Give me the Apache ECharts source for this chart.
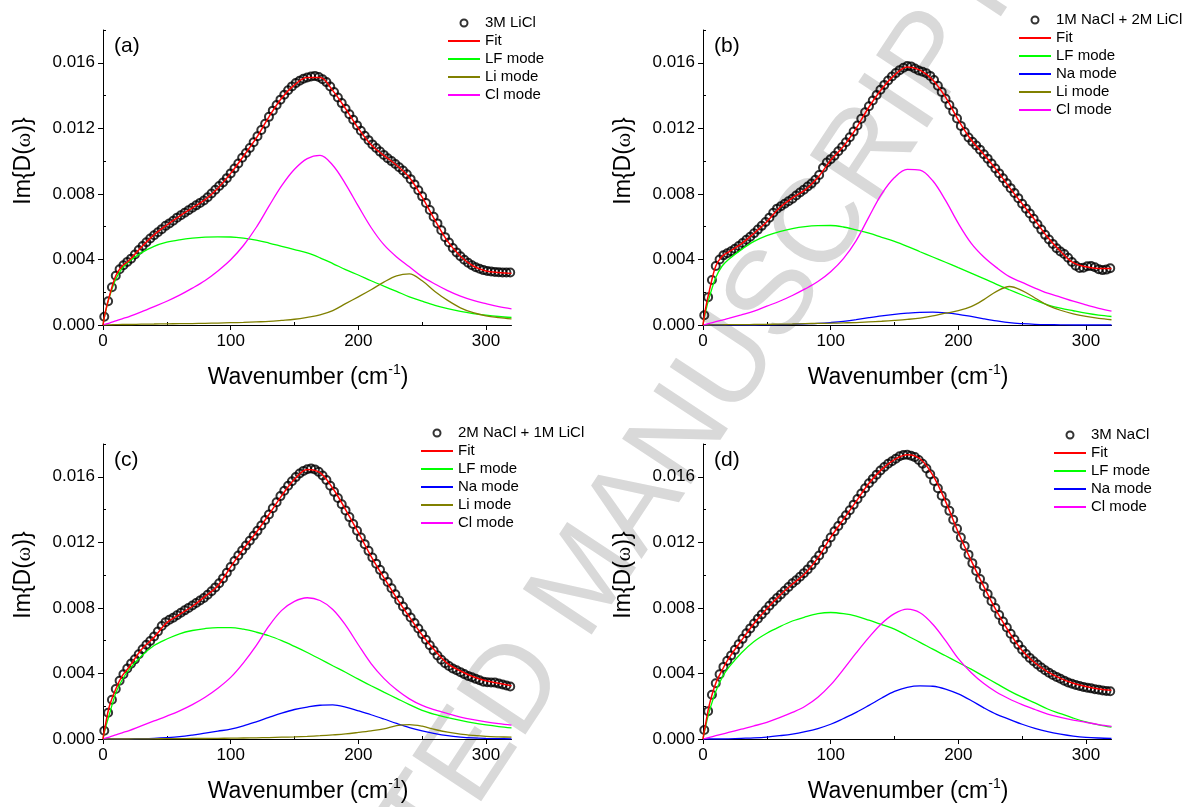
<!DOCTYPE html>
<html>
<head>
<meta charset="utf-8">
<script src="https://cdn.jsdelivr.net/npm/echarts@6/dist/echarts.min.js"></script>
<style>
  html, body { margin: 0; background: #fff; }
  #chart { width: 1184px; height: 807px; }
</style>
</head>
<body>
<div id="chart"></div>
<script>
// wavenumbers of the measured points (cm-1)
const wn = [1, 4, 7, 10, 13, 16, 19, 22, 25, 28,
  31, 34, 37, 40, 43, 46, 49, 52, 55, 58,
  61, 64, 67, 70, 73, 76, 79, 82, 85, 88,
  91, 94, 97, 100, 103, 106, 109, 112, 115, 118,
  121, 124, 127, 130, 133, 136, 139, 142, 145, 148,
  151, 154, 157, 160, 163, 166, 169, 172, 175, 178,
  181, 184, 187, 190, 193, 196, 199, 202, 205, 208,
  211, 214, 217, 220, 223, 226, 229, 232, 235, 238,
  241, 244, 247, 250, 253, 256, 259, 262, 265, 268,
  271, 274, 277, 280, 283, 286, 289, 292, 295, 298,
  301, 304, 307, 310, 313, 316, 319];
// wavenumbers where fit / mode curves are read
const fitX = [0, 2, 5, 10, 15, 20, 30, 40, 50, 60, 70, 80, 90, 100, 110, 120, 130, 140, 150, 160,
  170, 180, 190, 200, 210, 220, 230, 240, 250, 260, 270, 280, 290, 300, 310, 320];

// all Im{D(w)} values below are x 10^-3

// (a) 3M LiCl
const aData = [0.5, 1.45, 2.3, 3.0, 3.4, 3.65, 3.85, 4.05, 4.3, 4.58,
  4.82, 5.05, 5.28, 5.48, 5.66, 5.85, 6.05, 6.2, 6.36, 6.55,
  6.7, 6.85, 7.0, 7.15, 7.3, 7.45, 7.6, 7.8, 8.02, 8.25,
  8.48, 8.7, 8.96, 9.25, 9.55, 9.85, 10.2, 10.5, 10.8, 11.15,
  11.52, 11.9, 12.28, 12.7, 13.08, 13.42, 13.75, 14.05, 14.32, 14.56,
  14.76, 14.9, 15.02, 15.1, 15.16, 15.2, 15.13, 15.0, 14.82, 14.55,
  14.22, 13.88, 13.54, 13.2, 12.86, 12.52, 12.18, 11.85, 11.55, 11.28,
  11.02, 10.8, 10.58, 10.38, 10.18, 10.0, 9.82, 9.62, 9.43, 9.2,
  8.9, 8.58, 8.22, 7.85, 7.44, 7.02, 6.61, 6.2, 5.78, 5.36,
  5.03, 4.7, 4.43, 4.2, 3.98, 3.8, 3.65, 3.52, 3.43, 3.35,
  3.3, 3.26, 3.24, 3.22, 3.21, 3.2, 3.2];
const aFit = [0, 0.85, 1.75, 3.0, 3.6, 3.9, 4.75, 5.5, 6.1, 6.65, 7.15, 7.65, 8.35, 9.25, 10.3, 11.4, 12.7, 13.85, 14.65, 15.1,
  15.1, 14.3, 13.2, 12.0, 11.0, 10.35, 9.75, 9.0, 7.8, 6.4, 5.1, 4.2, 3.6, 3.3, 3.2, 3.15];
const aLF = [0, 0.8, 1.7, 2.8, 3.45, 3.85, 4.4, 4.8, 5.05, 5.2, 5.3, 5.36, 5.38, 5.37, 5.3, 5.18, 5.0, 4.8, 4.6, 4.4,
  4.1, 3.75, 3.38, 3.05, 2.7, 2.37, 2.05, 1.72, 1.45, 1.2, 1.0, 0.83, 0.7, 0.6, 0.52, 0.46];
const aLi = [0, 0, 0.01, 0.02, 0.03, 0.03, 0.05, 0.06, 0.07, 0.08, 0.09, 0.1, 0.12, 0.14, 0.16, 0.19, 0.22, 0.28, 0.35, 0.47,
  0.62, 0.88, 1.3, 1.72, 2.15, 2.62, 3.0, 3.12, 2.7, 2.05, 1.5, 1.05, 0.75, 0.56, 0.45, 0.37];
const aCl = [0, 0.05, 0.12, 0.25, 0.38, 0.5, 0.8, 1.12, 1.45, 1.82, 2.25, 2.72, 3.3, 3.98, 4.85, 5.95, 7.25, 8.5, 9.5, 10.15,
  10.35, 9.75, 8.6, 7.25, 5.95, 4.9, 4.15, 3.55, 2.95, 2.5, 2.1, 1.76, 1.5, 1.3, 1.12, 0.99];

// (b) 1M NaCl + 2M LiCl
const bData = [0.6, 1.7, 2.75, 3.6, 4.0, 4.25, 4.38, 4.5, 4.65, 4.82,
  5.0, 5.2, 5.38, 5.6, 5.82, 6.05, 6.28, 6.55, 6.85, 7.1,
  7.25, 7.4, 7.55, 7.7, 7.9, 8.08, 8.26, 8.45, 8.63, 8.86,
  9.15, 9.6, 9.92, 10.12, 10.33, 10.6, 10.86, 11.15, 11.46, 11.8,
  12.17, 12.58, 12.98, 13.35, 13.7, 14.03, 14.35, 14.65, 14.92, 15.16,
  15.37, 15.55, 15.7, 15.8, 15.78, 15.65, 15.53, 15.45, 15.36, 15.2,
  14.95, 14.6, 14.22, 13.8, 13.42, 13.03, 12.6, 12.15, 11.77, 11.44,
  11.18, 10.95, 10.7, 10.42, 10.15, 9.85, 9.55, 9.25, 8.95, 8.65,
  8.35, 8.05, 7.74, 7.4, 7.1, 6.8, 6.48, 6.15, 5.82, 5.5,
  5.22, 4.95, 4.68, 4.48, 4.33, 4.1, 3.84, 3.62, 3.48, 3.5,
  3.58, 3.6, 3.52, 3.4, 3.35, 3.38, 3.46];
const bFit = [0, 1.0, 2.1, 3.6, 4.2, 4.45, 4.95, 5.6, 6.3, 7.15, 7.75, 8.25, 9.0, 10.05, 10.9, 12.0, 13.3, 14.4, 15.25, 15.75,
  15.55, 14.95, 13.9, 12.5, 11.3, 10.4, 9.45, 8.4, 7.4, 6.4, 5.35, 4.5, 3.8, 3.55, 3.45, 3.45];
const bLF = [0, 0.8, 1.7, 2.9, 3.6, 4.0, 4.6, 5.1, 5.45, 5.7, 5.88, 6.0, 6.06, 6.07, 5.98, 5.8, 5.6, 5.35, 5.1, 4.8,
  4.47, 4.15, 3.83, 3.5, 3.17, 2.83, 2.48, 2.15, 1.83, 1.52, 1.23, 1.03, 0.87, 0.72, 0.6, 0.52];
const bNa = [0, 0, 0, 0, 0, 0, 0, 0, 0.01, 0.02, 0.04, 0.07, 0.1, 0.15, 0.22, 0.33, 0.45, 0.56, 0.65, 0.72,
  0.77, 0.78, 0.74, 0.65, 0.52, 0.38, 0.25, 0.14, 0.08, 0.04, 0.02, 0.01, 0, 0, 0, 0];
const bLi = [0, 0, 0, 0.01, 0.01, 0.02, 0.02, 0.03, 0.04, 0.05, 0.06, 0.08, 0.1, 0.11, 0.13, 0.15, 0.19, 0.23, 0.28, 0.34,
  0.42, 0.55, 0.72, 0.87, 1.12, 1.55, 2.05, 2.35, 2.1, 1.65, 1.2, 0.9, 0.68, 0.52, 0.4, 0.32];
const bCl = [0, 0.04, 0.1, 0.2, 0.3, 0.4, 0.62, 0.85, 1.15, 1.45, 1.8, 2.2, 2.65, 3.25, 4.05, 5.15, 6.6, 8.0, 9.0, 9.5,
  9.45, 8.8, 7.6, 6.2, 5.0, 4.15, 3.5, 2.95, 2.6, 2.25, 1.94, 1.7, 1.45, 1.23, 1.02, 0.84];

// (c) 2M NaCl + 1M LiCl
const cData = [0.5, 1.6, 2.4, 3.05, 3.55, 3.95, 4.3, 4.6, 4.86, 5.17,
  5.48, 5.75, 5.98, 6.25, 6.56, 6.9, 7.13, 7.28, 7.4, 7.55,
  7.7, 7.85, 8.0, 8.15, 8.3, 8.45, 8.6, 8.8, 9.02, 9.25,
  9.5, 9.8, 10.14, 10.5, 10.86, 11.2, 11.5, 11.8, 12.1, 12.4,
  12.7, 13.03, 13.36, 13.7, 14.08, 14.45, 14.82, 15.15, 15.45, 15.73,
  15.98, 16.2, 16.36, 16.46, 16.5, 16.45, 16.3, 16.08, 15.8, 15.45,
  15.08, 14.7, 14.32, 13.95, 13.54, 13.12, 12.71, 12.3, 11.89, 11.48,
  11.08, 10.7, 10.32, 9.95, 9.58, 9.2, 8.83, 8.45, 8.08, 7.75,
  7.41, 7.08, 6.74, 6.4, 6.06, 5.72, 5.4, 5.1, 4.84, 4.62,
  4.45, 4.3, 4.19, 4.08, 3.96, 3.85, 3.77, 3.67, 3.58, 3.5,
  3.46, 3.45, 3.44, 3.38, 3.32, 3.26, 3.2];
const cFit = [0, 0.9, 2.0, 3.05, 3.85, 4.35, 5.45, 6.2, 7.1, 7.6, 8.1, 8.7, 9.35, 10.5, 11.6, 12.6, 13.7, 14.85, 15.85, 16.45,
  16.25, 15.3, 14.0, 12.6, 11.15, 9.85, 8.6, 7.45, 6.35, 5.4, 4.6, 4.15, 3.8, 3.55, 3.4, 3.25];
const cLF = [0, 0.7, 1.5, 2.8, 3.6, 4.2, 5.05, 5.7, 6.1, 6.42, 6.62, 6.74, 6.8, 6.8, 6.7, 6.52, 6.3, 6.0, 5.65, 5.28,
  4.88, 4.47, 4.07, 3.65, 3.25, 2.86, 2.48, 2.1, 1.75, 1.5, 1.3, 1.13, 0.98, 0.86, 0.76, 0.68];
const cNa = [0, 0, 0, 0, 0, 0.01, 0.02, 0.04, 0.08, 0.14, 0.24, 0.36, 0.48, 0.6, 0.8, 1.05, 1.32, 1.58, 1.8, 1.95,
  2.06, 2.08, 1.95, 1.72, 1.48, 1.22, 0.95, 0.7, 0.5, 0.33, 0.2, 0.12, 0.07, 0.04, 0.02, 0.01];
const cLi = [0, 0, 0, 0, 0, 0, 0.01, 0.01, 0.02, 0.02, 0.03, 0.03, 0.04, 0.05, 0.06, 0.07, 0.09, 0.11, 0.13, 0.16,
  0.2, 0.25, 0.31, 0.4, 0.5, 0.62, 0.82, 0.88, 0.78, 0.58, 0.42, 0.3, 0.22, 0.16, 0.13, 0.11];
const cCl = [0, 0.05, 0.12, 0.25, 0.38, 0.5, 0.8, 1.1, 1.4, 1.72, 2.1, 2.55, 3.1, 3.76, 4.65, 5.7, 6.9, 7.85, 8.4, 8.62,
  8.45, 7.9, 6.95, 5.75, 4.6, 3.7, 3.0, 2.45, 2.05, 1.78, 1.55, 1.34, 1.18, 1.05, 0.94, 0.85];

// (d) 3M NaCl
const dData = [0.55, 1.7, 2.7, 3.4, 3.95, 4.4, 4.77, 5.1, 5.44, 5.78,
  6.11, 6.45, 6.75, 7.05, 7.34, 7.6, 7.86, 8.13, 8.38, 8.6,
  8.82, 9.05, 9.28, 9.5, 9.69, 9.9, 10.12, 10.35, 10.61, 10.9,
  11.2, 11.55, 11.92, 12.3, 12.67, 13.0, 13.34, 13.65, 13.96, 14.3,
  14.64, 14.98, 15.3, 15.6, 15.87, 16.13, 16.38, 16.6, 16.79, 16.95,
  17.1, 17.25, 17.33, 17.34, 17.28, 17.2, 17.02, 16.79, 16.5, 16.15,
  15.74, 15.3, 14.85, 14.4, 13.92, 13.38, 12.83, 12.3, 11.78, 11.25,
  10.73, 10.25, 9.76, 9.3, 8.85, 8.4, 7.99, 7.57, 7.17, 6.8,
  6.42, 6.07, 5.75, 5.45, 5.19, 4.95, 4.74, 4.55, 4.36, 4.2,
  4.05, 3.9, 3.79, 3.68, 3.56, 3.45, 3.37, 3.3, 3.23, 3.18,
  3.13, 3.09, 3.04, 3.0, 2.96, 2.93, 2.91];
const dFit = [0, 0.9, 2.1, 3.4, 4.2, 4.9, 6.0, 7.05, 7.95, 8.75, 9.45, 10.1, 11.05, 12.3, 13.4, 14.5, 15.6, 16.45, 17.05, 17.35,
  17.1, 16.1, 14.5, 12.6, 10.9, 9.3, 7.8, 6.5, 5.4, 4.65, 4.1, 3.7, 3.4, 3.2, 3.05, 2.97];
const dLF = [0, 0.75, 1.7, 2.9, 3.75, 4.35, 5.25, 5.95, 6.45, 6.85, 7.2, 7.45, 7.65, 7.72, 7.65, 7.5, 7.25, 6.98, 6.7, 6.3,
  5.9, 5.48, 5.08, 4.67, 4.26, 3.82, 3.38, 2.94, 2.55, 2.2, 1.83, 1.55, 1.28, 1.04, 0.86, 0.72];
const dNa = [0, 0, 0, 0, 0, 0.01, 0.04, 0.07, 0.12, 0.2, 0.3, 0.45, 0.64, 0.9, 1.25, 1.62, 2.05, 2.5, 2.9, 3.15,
  3.24, 3.22, 3.05, 2.75, 2.35, 1.9, 1.5, 1.2, 0.9, 0.65, 0.45, 0.3, 0.18, 0.1, 0.06, 0.04];
const dCl = [0, 0.04, 0.1, 0.2, 0.3, 0.4, 0.6, 0.8, 1.02, 1.3, 1.62, 2.0, 2.55, 3.3, 4.25, 5.25, 6.2, 7.05, 7.65, 7.92,
  7.7, 7.0, 6.0, 4.9, 4.06, 3.38, 2.85, 2.44, 2.1, 1.8, 1.52, 1.32, 1.15, 1.02, 0.88, 0.77];

const xMajor = [0, 100, 200, 300];
const xMinor = [50, 150, 250];
const yMajor = [0, 4, 8, 12, 16];
const yMinor = [2, 6, 10, 14, 18];

const FONT = '"Liberation Sans", Arial, sans-serif';
const colors = {
  'Fit': '#ff0000',
  'LF mode': '#00ff00',
  'Na mode': '#0000ff',
  'Li mode': '#808000',
  'Cl mode': '#ff00ff'
};

const panels = [
  { tag: '(a)', sample: '3M LiCl', data: aData, left: 103, top: 30, legend: [447, 15],
    curves: [['Fit', aFit], ['LF mode', aLF], ['Li mode', aLi], ['Cl mode', aCl]] },
  { tag: '(b)', sample: '1M NaCl + 2M LiCl', data: bData, left: 703, top: 30, legend: [1018, 12],
    curves: [['Fit', bFit], ['LF mode', bLF], ['Na mode', bNa], ['Li mode', bLi], ['Cl mode', bCl]] },
  { tag: '(c)', sample: '2M NaCl + 1M LiCl', data: cData, left: 103, top: 444, legend: [420, 425],
    curves: [['Fit', cFit], ['LF mode', cLF], ['Na mode', cNa], ['Li mode', cLi], ['Cl mode', cCl]] },
  { tag: '(d)', sample: '3M NaCl', data: dData, left: 703, top: 444, legend: [1053, 427],
    curves: [['Fit', dFit], ['LF mode', dLF], ['Na mode', dNa], ['Cl mode', dCl]] }
];
const W = 408.5, H = 295;

const pairs = (xs, ys) => xs.map((x, i) => [x, ys[i]]);
const black = { color: '#000', width: 1 };
const noDot = { color: 'rgba(0,0,0,0)', borderColor: 'rgba(0,0,0,0)', borderWidth: 0 };

const grid = [], xAxis = [], yAxis = [], series = [], legend = [], graphic = [];

// grey watermark, behind everything
graphic.push({
  type: 'text', silent: true, z: -10, x: 588, y: 580, rotation: 0.986,
  style: { text: 'ACCEPTED MANUSCRIPT', fontSize: 120, fontFamily: FONT, fill: '#d9d9d9',
    align: 'center', verticalAlign: 'middle' }
});

panels.forEach((p, i) => {
  grid.push({ left: p.left, top: p.top, width: W, height: H, containLabel: false, outerBoundsMode: 'none' });

  xAxis.push({
    gridIndex: i, type: 'value', min: 0, max: 320,
    axisLine: { lineStyle: black },
    axisTick: { customValues: xMajor, length: 5, lineStyle: black },
    axisLabel: { customValues: xMajor, fontSize: 17, color: '#000', fontFamily: FONT, margin: 8 },
    splitLine: { show: false }
  }, {
    gridIndex: i, type: 'value', min: 0, max: 320,
    axisLine: { show: false },
    axisTick: { customValues: xMinor, length: 3, lineStyle: black },
    axisLabel: { show: false },
    splitLine: { show: false }
  });
  yAxis.push({
    gridIndex: i, type: 'value', min: 0, max: 18,
    axisLine: { show: true, lineStyle: black },
    axisTick: { show: true, customValues: yMajor, length: 5, lineStyle: black },
    axisLabel: { customValues: yMajor, fontSize: 17, color: '#000', fontFamily: FONT, margin: 8,
      formatter: v => (v / 1000).toFixed(3) },
    splitLine: { show: false }
  }, {
    gridIndex: i, type: 'value', min: 0, max: 18,
    axisLine: { show: false },
    axisTick: { show: true, customValues: yMinor, length: 3, lineStyle: black },
    axisLabel: { show: false },
    splitLine: { show: false }
  });

  series.push({
    type: 'scatter', name: p.sample, xAxisIndex: 2 * i, yAxisIndex: 2 * i,
    data: pairs(wn, p.data), symbol: 'circle', symbolSize: 8, z: 2,
    itemStyle: { color: 'rgba(0,0,0,0)', borderColor: '#000', borderWidth: 2 }
  });
  p.curves.forEach(([name, ys]) => {
    series.push({
      type: 'line', name, xAxisIndex: 2 * i, yAxisIndex: 2 * i,
      data: pairs(fitX, ys), symbol: 'none', smooth: 0.35,
      z: name === 'Fit' ? 4 : 3,
      lineStyle: { color: colors[name], width: name === 'Fit' ? 1.5 : 1.3 },
      itemStyle: { color: colors[name] }
    });
  });

  legend.push({
    left: p.legend[0], top: p.legend[1], orient: 'vertical', selectedMode: false,
    itemWidth: 32, itemHeight: 7, itemGap: 2, padding: 0,
    textStyle: { fontSize: 15, color: '#000', fontFamily: FONT, lineHeight: 16 },
    data: [{ name: p.sample, itemStyle: { borderWidth: 2 } }]
      .concat(p.curves.map(c => ({ name: c[0], itemStyle: noDot })))
  });

  graphic.push({
    type: 'text', x: p.left + 11, y: p.top + 16,
    style: { text: p.tag, fontSize: 21, fontFamily: FONT, fill: '#000', verticalAlign: 'middle' }
  }, {
    type: 'text', x: p.left - 79, y: p.top + 131, rotation: Math.PI / 2,
    style: {
      text: '{a|Im{D(}{w|ω}{a|)}}', fontSize: 23, fontFamily: FONT, fill: '#000',
      align: 'center', verticalAlign: 'middle',
      rich: {
        a: { fontSize: 23, fontFamily: FONT, fill: '#000' },
        w: { fontSize: 22, fontFamily: '"Liberation Serif", serif', fill: '#000' }
      }
    }
  }, {
    type: 'text', x: p.left + 205, y: p.top + H + 53,
    style: {
      text: '{a|Wavenumber (cm}{s|-1}{a|)}', fontSize: 23, fontFamily: FONT, fill: '#000',
      align: 'center', verticalAlign: 'middle',
      rich: {
        a: { fontSize: 23, fontFamily: FONT, fill: '#000', lineHeight: 30 },
        s: { fontSize: 14, fontFamily: FONT, fill: '#000', verticalAlign: 'top' }
      }
    }
  });
});

const chart = echarts.init(document.getElementById('chart'));
chart.setOption({
  backgroundColor: '#fff',
  animation: false,
  grid, xAxis, yAxis, series, legend, graphic
});
</script>
</body>
</html>
